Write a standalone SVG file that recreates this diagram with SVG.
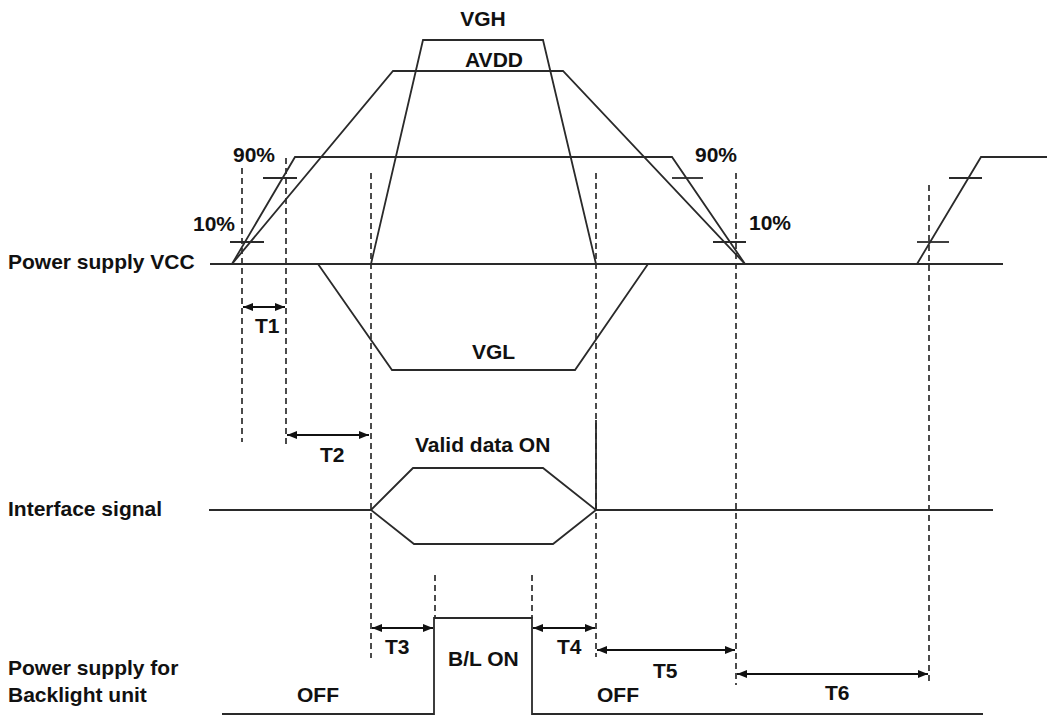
<svg xmlns="http://www.w3.org/2000/svg" width="1049" height="720" viewBox="0 0 1049 720">
<style>
.t{font-family:"Liberation Sans",Arial,sans-serif;font-weight:bold;font-size:21px;fill:#111}
.w{fill:none;stroke:#2a2a2a;stroke-width:1.8;stroke-linejoin:miter}
.d{fill:none;stroke:#111;stroke-width:1.5;stroke-dasharray:6 4}
.a{fill:none;stroke:#111;stroke-width:2;marker-start:url(#ah);marker-end:url(#ah)}
</style>
<defs>
<marker id="ah" viewBox="0 0 10 8" refX="10" refY="4" markerWidth="10" markerHeight="8" markerUnits="userSpaceOnUse" orient="auto-start-reverse">
<path d="M0,0 L10,4 L0,8 z" fill="#111"/>
</marker>
</defs>
<rect width="1049" height="720" fill="#fff"/>
<g id="connectors">
<line class="d" x1="242" y1="168" x2="242" y2="442"/>
<line class="d" x1="286" y1="158" x2="286" y2="447"/>
<line class="d" x1="371" y1="173" x2="371" y2="658"/>
<line class="d" x1="596" y1="173" x2="596" y2="657"/>
<line class="d" x1="435" y1="575" x2="435" y2="618"/>
<line class="d" x1="532" y1="575" x2="532" y2="618"/>
<line class="d" x1="736" y1="173" x2="736" y2="685"/>
<line class="d" x1="929" y1="185" x2="929" y2="683"/>
<line class="a" x1="243" y1="307" x2="285" y2="307"/>
<line class="a" x1="287" y1="435" x2="369" y2="435"/>
<line class="a" x1="372" y1="628" x2="433" y2="628"/>
<line class="a" x1="533" y1="628" x2="595" y2="628"/>
<line class="a" x1="597" y1="650" x2="735" y2="650"/>
<line class="a" x1="737" y1="674" x2="928" y2="674"/>
</g>
<g id="vcc">
<line class="w" x1="210" y1="264" x2="1003" y2="264"/>
<polyline class="w" points="232,264 295,157 672,157 745,264"/>
<polyline class="w" points="917,264 981,157 1047,157"/>
<line class="w" x1="263" y1="178" x2="297" y2="178"/>
<line class="w" x1="230" y1="242" x2="264" y2="242"/>
<line class="w" x1="672" y1="178" x2="703" y2="178"/>
<line class="w" x1="713" y1="242" x2="746" y2="242"/>
<line class="w" x1="949" y1="178" x2="982" y2="178"/>
<line class="w" x1="917" y1="242" x2="949" y2="242"/>
<text class="t" x="8" y="269">Power supply VCC</text>
<text class="t" x="233" y="162">90%</text>
<text class="t" x="193" y="231">10%</text>
<text class="t" x="695" y="162">90%</text>
<text class="t" x="749" y="230">10%</text>
</g>
<g id="avdd">
<polyline class="w" points="232,264 393,71 563,71 745,264"/>
<text class="t" x="494" y="67" text-anchor="middle">AVDD</text>
</g>
<g id="vgh">
<polyline class="w" points="371,264 423,40 543,40 596,264"/>
<text class="t" x="483" y="26" text-anchor="middle">VGH</text>
</g>
<g id="vgl">
<polyline class="w" points="318,264 392,370 575,370 648,264"/>
<text class="t" x="472" y="359">VGL</text>
</g>
<g id="interface">
<line class="w" x1="209" y1="510" x2="371" y2="510"/>
<polygon class="w" points="371,510 413,468 543,468 596,510 553,544 414,544"/>
<line class="w" x1="596" y1="510" x2="993" y2="510"/>
<line class="w" x1="596" y1="420" x2="596" y2="510"/>
<text class="t" x="8" y="516">Interface signal</text>
<text class="t" x="415" y="452">Valid data ON</text>
</g>
<g id="backlight">
<polyline class="w" points="222,714 434,714 434,618 532,618 532,714 983,714"/>
<text class="t" x="8" y="675">Power supply for</text>
<text class="t" x="8" y="702">Backlight unit</text>
<text class="t" x="297" y="702">OFF</text>
<text class="t" x="597" y="702">OFF</text>
<text class="t" x="448" y="666">B/L ON</text>
</g>
<g id="labels">
<text class="t" x="255" y="333">T1</text>
<text class="t" x="320" y="462">T2</text>
<text class="t" x="385" y="654">T3</text>
<text class="t" x="557" y="654">T4</text>
<text class="t" x="653" y="678">T5</text>
<text class="t" x="825" y="700">T6</text>
</g>
</svg>
